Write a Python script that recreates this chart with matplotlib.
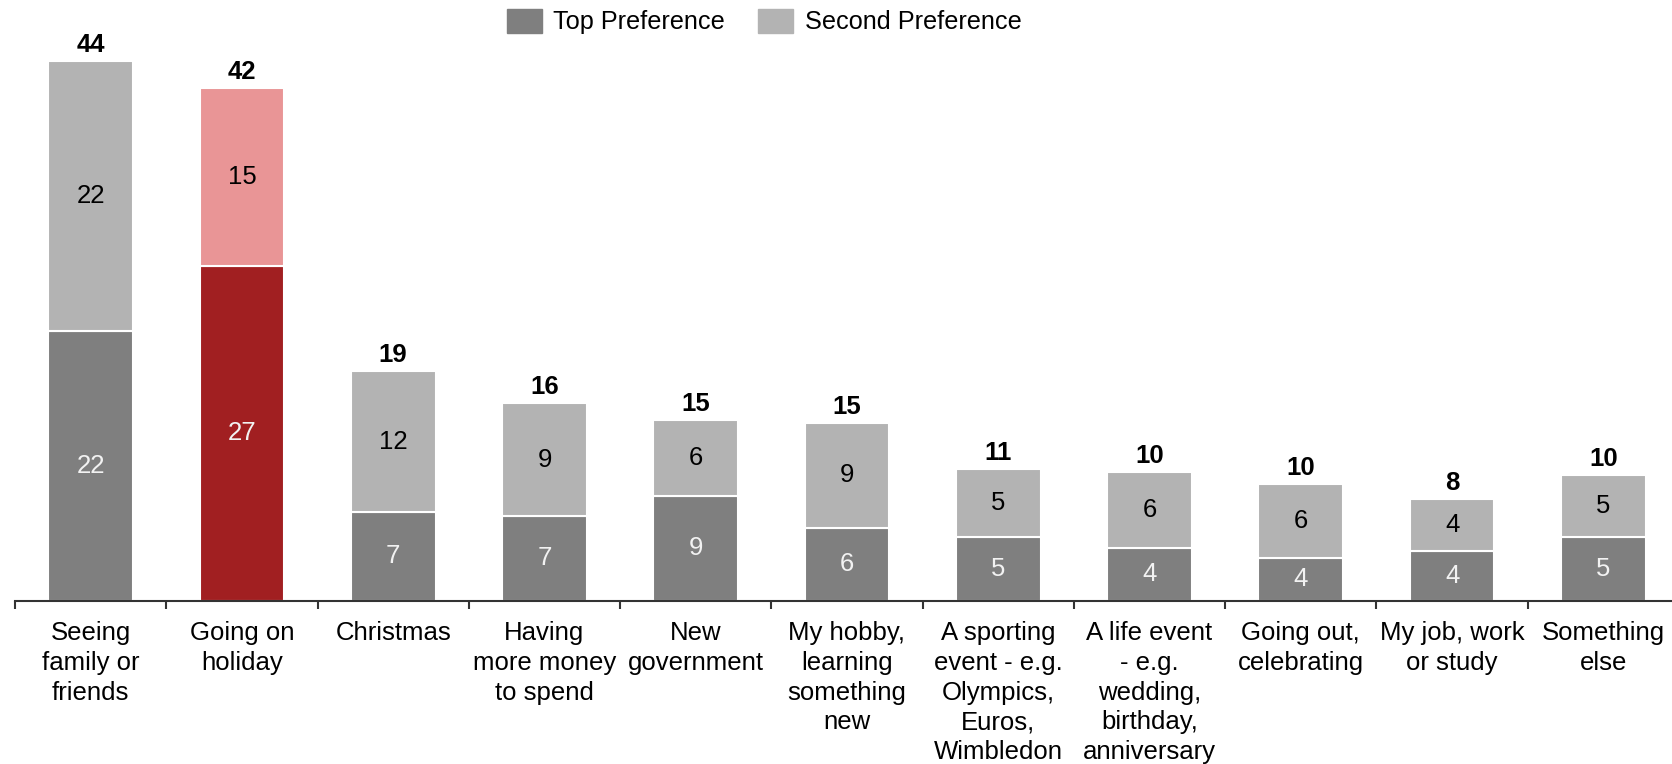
import numpy as np
import matplotlib
matplotlib.use("Agg")
from matplotlib import pyplot as plt
from matplotlib.patches import Patch

plt.rcParams['font.family'] = ['Liberation Sans', 'DejaVu Sans']

categories = [
    "Seeing\nfamily or\nfriends",
    "Going on\nholiday",
    "Christmas",
    "Having\nmore money\nto spend",
    "New\ngovernment",
    "My hobby,\nlearning\nsomething\nnew",
    "A sporting\nevent - e.g.\nOlympics,\nEuros,\nWimbledon",
    "A life event\n- e.g.\nwedding,\nbirthday,\nanniversary",
    "Going out,\ncelebrating",
    "My job, work\nor study",
    "Something\nelse",
]
# bar heights (unrounded)
top_pref = [22.0, 27.3, 7.2, 6.9, 8.5, 5.9, 5.2, 4.3, 3.5, 4.0, 5.2]
second_pref = [22.0, 14.5, 11.5, 9.2, 6.2, 8.6, 5.5, 6.2, 6.0, 4.3, 5.0]
# printed labels
top_labels = [22, 27, 7, 7, 9, 6, 5, 4, 4, 4, 5]
second_labels = [22, 15, 12, 9, 6, 9, 5, 6, 6, 4, 5]
total_labels = [44, 42, 19, 16, 15, 15, 11, 10, 10, 8, 10]

top_colors = ["#7f7f7f", "#a11f21"] + ["#7f7f7f"] * 9
second_colors = ["#b3b3b3", "#e99596"] + ["#b3b3b3"] * 9

fig = plt.figure(figsize=(16.72, 7.64), dpi=100)
ax = fig.add_axes([15 / 1672, 0.214, 1664 / 1672, 0.738])

x = np.arange(len(categories))
width = 0.56
bars1 = ax.bar(x, top_pref, width=width, color=top_colors, edgecolor="white", linewidth=1.5)
bars2 = ax.bar(x, second_pref, width=width, bottom=top_pref, color=second_colors,
               edgecolor="white", linewidth=1.5)

for i in range(len(categories)):
    ax.text(x[i], top_pref[i] / 2, str(top_labels[i]), ha="center", va="center",
            fontsize=18.5, color="#f2f2f2")
    ax.text(x[i], top_pref[i] + second_pref[i] / 2, str(second_labels[i]), ha="center",
            va="center", fontsize=18.5, color="black")
    ax.annotate(str(total_labels[i]), (x[i], top_pref[i] + second_pref[i]),
                xytext=(0, 3), textcoords="offset points", ha="center", va="bottom",
                fontsize=18.5, fontweight="bold")

ax.set_xlim(-0.5, len(categories) - 0.5)
ax.set_ylim(0, 46)
ax.set_xticks(x)
ax.set_xticklabels(categories, fontsize=18.5, linespacing=1.3)
ax.set_xticks(np.arange(len(categories) + 1) - 0.5, minor=True)
ax.tick_params(axis="x", which="major", length=0, pad=15)
ax.tick_params(axis="x", which="minor", length=6, width=1.5, color="#333333", direction="out")
ax.set_yticks([])
for s in ["top", "right", "left"]:
    ax.spines[s].set_visible(False)
ax.spines["bottom"].set_linewidth(1.5)
ax.spines["bottom"].set_color("#333333")

handles = [Patch(color="#7f7f7f"), Patch(color="#b3b3b3")]
fig.legend(handles, ["Top Preference", "Second Preference"], loc="center",
           bbox_to_anchor=(0.457, 0.972), ncol=2, frameon=False, fontsize=18.2,
           handlelength=1.4, handleheight=1.1, columnspacing=1.3, handletextpad=0.45)

fig.savefig("out.png", dpi=100)
